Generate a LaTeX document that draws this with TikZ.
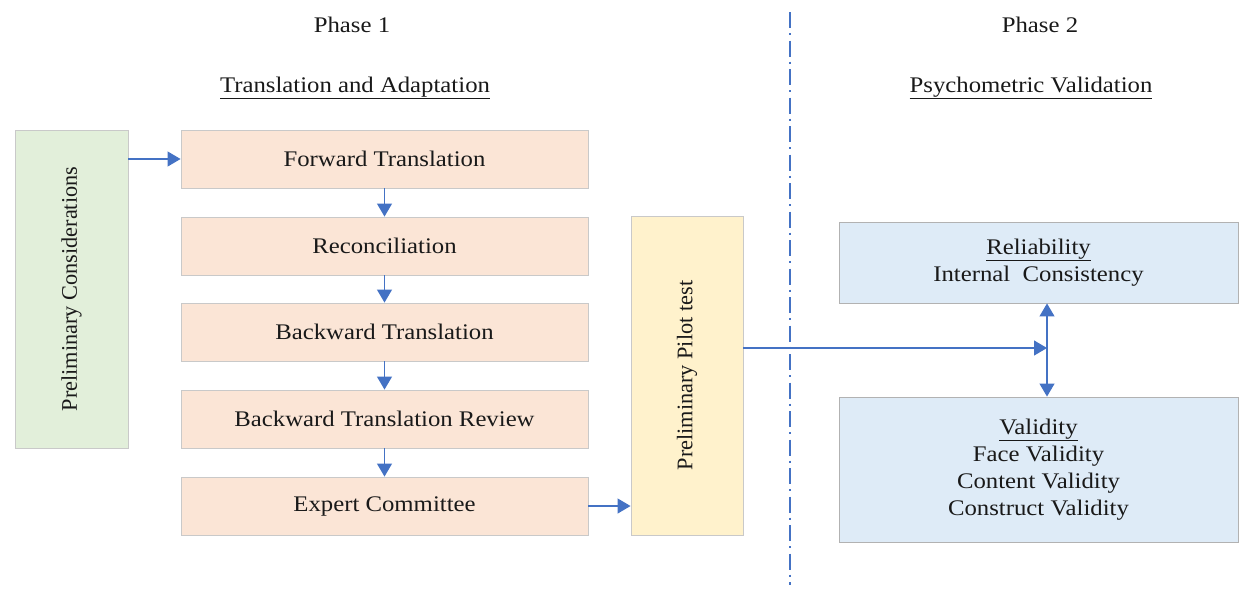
\documentclass[tikz,border=0pt]{standalone}
\usepackage{fontspec}
\setmainfont{Liberation Serif}
\newfontfamily\hfont[FakeStretch=1.11]{Liberation Serif}
\usetikzlibrary{arrows.meta}
\definecolor{pinkf}{HTML}{FBE5D6}
\definecolor{greenf}{HTML}{E2EFDA}
\definecolor{yellowf}{HTML}{FFF2CC}
\definecolor{bluef}{HTML}{DEEBF7}
\definecolor{arrc}{HTML}{4472C4}
\definecolor{bord}{HTML}{C9C9C9}
\tikzset{
  base/.style={draw=bord, line width=0.9pt, inner sep=0pt, align=center,
    font=\hfont\fontsize{22.3}{27}\selectfont, text=black!90},
  pinkbox/.style={base, fill=pinkf, minimum width=407pt, minimum height=58pt},
  greenbox/.style={base, fill=greenf, font=\fontsize{22.3}{27}\selectfont},
  yellowbox/.style={base, fill=yellowf, font=\fontsize{22.3}{27}\selectfont},
  bluebox/.style={base, fill=bluef, draw=black!30},
  arr/.style={draw=arrc, line width=1.2pt, -{Triangle[length=13pt,width=15pt]}},
  darr/.style={draw=arrc, line width=1.2pt, {Triangle[length=13pt,width=15pt]}-{Triangle[length=13pt,width=15pt]}},
  head/.style={font=\hfont\fontsize{22.3}{27}\selectfont, text=black!90, inner sep=0pt}
}
\begin{document}
\begin{tikzpicture}[x=1pt,y=-1pt]
\useasboundingbox (0,0) rectangle (1239,590);
% headings
\node[head] (ph1) at (352,25) {Phase 1};
\node[head] (ph2) at (1040,25) {Phase 2};
\node[head] (ta) at (355,88) {\underline{Translation and Adaptation}};
\node[head] (pv) at (1031,88) {\underline{Psychometric Validation}};
% divider
\coordinate (dtop) at (790,12);
\coordinate (dbot) at (790,585);
\draw[draw=arrc, line width=2.6pt, dash pattern=on 16pt off 5pt on 2pt off 5.5pt] (dtop) -- (dbot);
% left column
\node[greenbox, rotate=90, minimum width=318pt, minimum height=113pt] (pc) at (71.5,289) {Preliminary Considerations};
\node[pinkbox] (ft) at (384.5,159) {Forward Translation};
\node[pinkbox] (rc) at (384.5,246) {Reconciliation};
\node[pinkbox] (bt) at (384.5,332) {Backward Translation};
\node[pinkbox] (btr) at (384.5,419) {Backward Translation Review};
\node[pinkbox] (ec) at (384.5,506) {Expert Committee};
\node[yellowbox, rotate=90, minimum width=319pt, minimum height=112pt] (pp) at (687,375.5) {Preliminary Pilot test};
% right column
\node[bluebox, minimum width=399pt, minimum height=81pt] (rel) at (1038.5,262.5) {\underline{Reliability}\\Internal\ \ Consistency};
\node[bluebox, minimum width=399pt, minimum height=145pt] (val) at (1038.5,469.5) {\underline{Validity}\\Face Validity\\Content Validity\\Construct Validity};
% connectors
\draw[arr] (ft.west -| pc.south) -- (ft.west);
\draw[arr] (ft) -- (rc);
\draw[arr] (rc) -- (bt);
\draw[arr] (bt) -- (btr);
\draw[arr] (btr) -- (ec);
\draw[arr] (ec.east) -- (ec.east -| pp.north);
\coordinate (j) at (1047,348);
\draw[arr] (j -| pp.south) -- (j);
\draw[darr] (j |- rel.south) -- (j |- val.north);
\end{tikzpicture}
\end{document}
